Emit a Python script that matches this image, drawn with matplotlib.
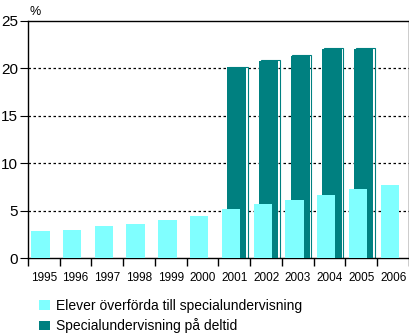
import matplotlib
matplotlib.use('Agg')
import matplotlib.pyplot as plt
from matplotlib.patches import Patch
import numpy as np

plt.rcParams['font.family'] = ['Liberation Sans', 'DejaVu Sans']

years = ['1995', '1996', '1997', '1998', '1999', '2000',
         '2001', '2002', '2003', '2004', '2005', '2006']
overforda = [2.9, 3.0, 3.4, 3.6, 4.0, 4.5, 5.2, 5.7, 6.1, 6.7, 7.3, 7.7]
deltid = [np.nan, np.nan, np.nan, np.nan, np.nan, np.nan,
          20.1, 20.8, 21.3, 22.0, 22.0, np.nan]

ljus = '#80FFFF'
mork = '#008080'

fig = plt.figure(figsize=(4.10, 3.36), dpi=100)
ax = fig.add_axes([0.068, 0.231, 0.9296, 0.7074])

x = np.arange(len(years))

# skuggkontur bakom de morka staplarna
ax.bar(x + 0.125, np.array(deltid) + 0.08, 0.6, fill=False,
       edgecolor=mork, linewidth=0.8, zorder=2)
ax.bar(x + 0.075, deltid, 0.6, color=mork, linewidth=0.0, zorder=3)
ax.bar(x - 0.105, overforda, 0.58, color=ljus, linewidth=0, zorder=4)

ax.set_xlim(-0.5, len(years) - 0.5)
ax.set_ylim(0, 25)
ax.set_yticks([0, 5, 10, 15, 20, 25])
ax.set_yticklabels(['0', '5', '10', '15', '20', '25'], fontsize=11)

ax.set_xticks(x)
ax.set_xticklabels(years, fontsize=8.5)
ax.tick_params(axis='x', length=0, pad=10)
ax.set_xticks(np.arange(len(years) + 1) - 0.5, minor=True)
ax.tick_params(axis='x', which='minor', length=6, width=1, direction='out')
ax.tick_params(axis='y', length=6, width=0.8, direction='out', pad=1)

for v in [5, 10, 15, 20]:
    ax.axhline(v, color='black', linewidth=0.9, linestyle=(0, (2, 2)), zorder=1)

for s in ax.spines.values():
    s.set_linewidth(1.0)
    s.set_color('black')

fig.text(0.071, 0.955, '%', fontsize=9)

handles = [Patch(facecolor=ljus, edgecolor='none'),
           Patch(facecolor=mork, edgecolor='none')]
fig.legend(handles, ['Elever överförda till specialundervisning',
                     'Specialundervisning på deltid'],
           loc='upper left', bbox_to_anchor=(0.095, 0.110), frameon=False,
           fontsize=10, handlelength=0.8, handleheight=0.7, handletextpad=0.4,
           labelspacing=0.38, borderpad=0, borderaxespad=0)

fig.savefig('out.png', dpi=100)
